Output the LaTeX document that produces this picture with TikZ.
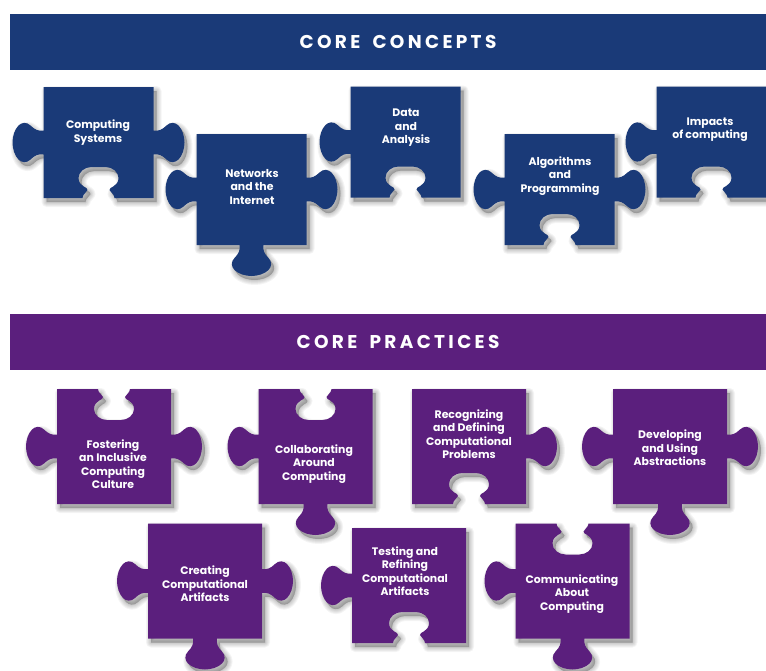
\documentclass[tikz,border=0pt]{standalone}
\usepackage{fontspec}
\setmainfont{Poppins}
\definecolor{coreblue}{HTML}{1A3A78}
\definecolor{corepurple}{HTML}{5B1F7D}
\tikzstyle{bar}=[inner sep=0pt]
\tikzstyle{bartext}=[text=white, inner sep=0pt, font=\fontsize{18.5}{18.5}\bfseries\addfontfeature{LetterSpace=18}]
\tikzstyle{piecetext}=[text=white, align=center, inner sep=0pt, font=\fontsize{10.9}{13.4}\bfseries]
\tikzstyle{pieceshadow}=[draw=black, fill=black, opacity=.045, line join=round, shift={(3,4)}]
% one tab on the right side of a piece, centred on the origin
\def\knob{-- (0,-12) .. controls (5,-11) and (9,-13) .. (13,-17) .. controls (17,-21) and (22,-20) .. (25,-17) .. controls (29,-13) and (31,-6) .. (31,0) .. controls (31,6) and (29,13) .. (25,17) .. controls (22,20) and (17,21) .. (13,17) .. controls (9,13) and (5,11) .. (0,12)}
\def\socket{{[xscale=-1] -- (0,-16) .. controls (4,-16) and (5,-12) .. (8,-11) .. controls (11,-10) and (11,-20) .. (20,-20) .. controls (26,-20) and (31,-14) .. (31,-7) -- (31,7) .. controls (31,14) and (26,20) .. (20,20) .. controls (11,20) and (11,10) .. (8,11) .. controls (5,12) and (4,16) .. (0,16)}}
% #1,#2 centre; #3 top, #4 right, #5 bottom, #6 left
\newcommand{\piece}[6]{%
	\def\outline{(#1-\hw,#2-\hh) {[shift={(#1,#2-\hh)},rotate=90] #3} -- (#1+\hw,#2-\hh) {[shift={(#1+\hw,#2)}] #4} -- (#1+\hw,#2+\hh) {[shift={(#1,#2+\hh)},rotate=-90] #5} -- (#1-\hw,#2+\hh) {[shift={(#1-\hw,#2)},rotate=180] #6} -- cycle}%
	\foreach \w in {10,8,6,4,2,0.5} {\path[pieceshadow, line width=\w] \outline;}
	\fill[\piececol] \outline;
}

\begin{document}
\begin{tikzpicture}[x=1pt, y=-1pt]
	\useasboundingbox (0,0) rectangle (766,670);
	\node[bar, fill=coreblue, minimum width=756pt, minimum height=56pt, anchor=north west] (conceptsbar) at (10,14) {};
	\node[bartext] (conceptstitle) at (398,42) {CORE\hspace{5pt} CONCEPTS};
	\node[bar, fill=corepurple, minimum width=756pt, minimum height=56pt, anchor=north west] (practicesbar) at (10,314) {};
	\node[bartext] (practicestitle) at (398,342) {CORE\hspace{5pt} PRACTICES};

	% concepts
	\def\hw{55}
	\def\hh{55.5}
	\def\piececol{coreblue}
	\piece{98.5}{142.5}{}{\knob}{\socket}{\knob}
	\piece{251.5}{189.5}{}{\knob}{\knob}{\knob}
	\piece{405.5}{142}{}{}{\socket}{\knob}
	\piece{559.5}{189.5}{}{\knob}{\socket}{\knob}
	\piece{711.5}{142}{}{}{\socket}{\knob}
	\node[piecetext] (systems) at (98,132.5) {Computing\\Systems};
	\node[piecetext] (networks) at (252,187) {Networks\\and the\\Internet};
	\node[piecetext] (data) at (406,128) {Data\\and\\Analysis};
	\node[piecetext] (algorithms) at (560,176) {Algorithms\\and\\Programming};
	\node[piecetext] (impacts) at (710,129.5) {Impacts\\of computing};

	% practices
	\def\hw{57}
	\def\hh{57.5}
	\def\piececol{corepurple}
	\piece{114}{446.5}{\socket}{\knob}{}{\knob}
	\piece{315.5}{446.5}{\socket}{}{\knob}{\knob}
	\piece{469}{446.5}{}{\knob}{\socket}{}
	\piece{670}{446.5}{}{\knob}{\knob}{\knob}
	\piece{205}{581}{}{\knob}{\knob}{\knob}
	\piece{409}{585.5}{}{}{\socket}{\knob}
	\piece{572.5}{581}{\socket}{}{\knob}{\knob}
	\node[piecetext] (fostering) at (113,464) {Fostering\\an Inclusive\\Computing\\Culture};
	\node[piecetext] (collaborating) at (314,464) {Collaborating\\Around\\Computing};
	\node[piecetext] (recognizing) at (469,434) {Recognizing\\and Defining\\Computational\\Problems};
	\node[piecetext] (developing) at (670,448) {Developing\\and Using\\Abstractions};
	\node[piecetext] (creating) at (205,584) {Creating\\Computational\\Artifacts};
	\node[piecetext] (testing) at (405,571) {Testing and\\Refining\\Computational\\Artifacts};
	\node[piecetext] (communicating) at (572,594) {Communicating\\About\\Computing};
\end{tikzpicture}
\end{document}
